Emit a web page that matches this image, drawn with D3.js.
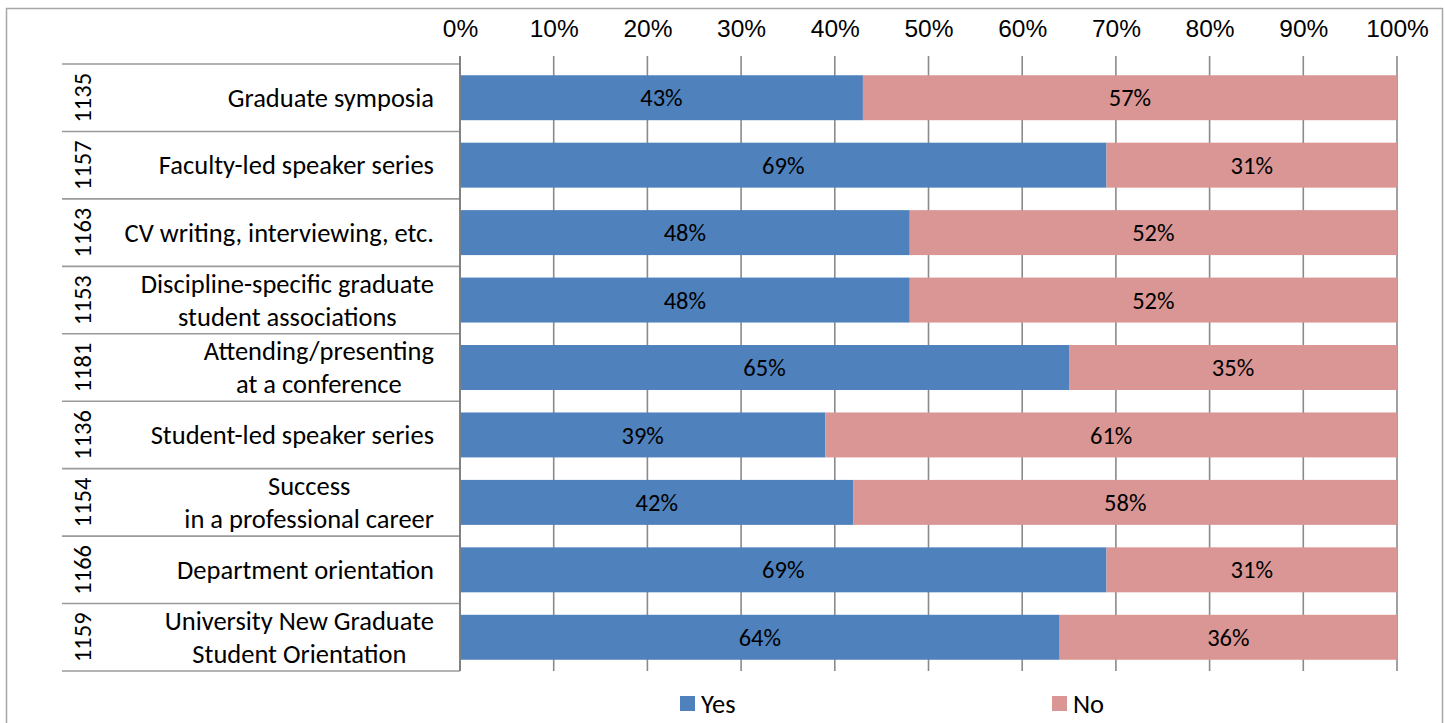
<!DOCTYPE html>
<html>
<head>
<meta charset="utf-8">
<script src="https://cdn.jsdelivr.net/npm/d3@7"></script>
<style>
  html, body { margin: 0; padding: 0; background: #fff; }
  svg { display: block; font-family: Carlito, Calibri, Lato, "Open Sans", sans-serif; }
</style>
</head>
<body>
<svg id="chart" width="1445" height="723"></svg>
<script>
// Survey item codes and item descriptions (top to bottom)
const codes = ["1135", "1157", "1163", "1153", "1181", "1136", "1154", "1166", "1159"];
const categories = [
  ["Graduate symposia"],
  ["Faculty-led speaker series"],
  ["CV writing, interviewing, etc."],
  ["Discipline-specific graduate", "student associations"],
  ["Attending/presenting", "at a conference"],
  ["Student-led speaker series"],
  ["Success", "in a professional career"],
  ["Department orientation"],
  ["University New Graduate", "Student Orientation"]
];
// Share of responses (%)
const yesValues = [43, 69, 48, 48, 65, 39, 42, 69, 64];
const noValues  = [57, 31, 52, 52, 35, 61, 58, 31, 36];
const seriesNames = ["Yes", "No"];
const seriesColors = ["#4F81BD", "#D99694"];
const tickValues = [0, 10, 20, 30, 40, 50, 60, 70, 80, 90, 100];

const svg = d3.select("#chart");
const NUM_FONT = 24.5;   // numbers: tick and value labels
const TXT_FONT = 26.5;   // words: item descriptions and legend

// Plot area
const plot = { left: 460, right: 1397, top: 64, bottom: 671 };
const labelAreaLeft = 62;

const x = d3.scaleLinear().domain([0, 100]).range([plot.left, plot.right]);
const y = d3.scaleBand()
  .domain(d3.range(codes.length))
  .range([plot.top, plot.bottom])
  .paddingInner(1 / 3)
  .paddingOuter(1 / 6);
const rowH = (plot.bottom - plot.top) / codes.length;

// Chart border
svg.append("rect")
  .attr("x", 6.5).attr("y", 8.5)
  .attr("width", 1436).attr("height", 730)
  .attr("fill", "none")
  .attr("stroke", "#a6a6a6")
  .attr("stroke-width", 1.5);

// Vertical gridlines with ticks above the plot
const gridColor = "#8a8a8a";
svg.append("g")
  .selectAll("line")
  .data(tickValues)
  .join("line")
  .attr("x1", d => x(d)).attr("x2", d => x(d))
  .attr("y1", plot.top - 8).attr("y2", plot.bottom)
  .attr("stroke", gridColor)
  .attr("stroke-width", 1.6);

// Top value axis labels
const xAxis = d3.axisTop(x)
  .tickValues(tickValues)
  .tickFormat(d => d + "%")
  .tickSize(0)
  .tickPadding(0);
const axisG = svg.append("g")
  .attr("transform", `translate(0, 37)`)
  .call(xAxis);
axisG.select(".domain").remove();
axisG.selectAll("text")
  .attr("font-size", NUM_FONT)
  .attr("font-family", null)
  .attr("fill", "#000")
  .attr("dy", 0);

// Category-axis separators (multi-level label area)
const sepYs = d3.range(codes.length + 1).map(i => plot.top + i * rowH);
svg.append("g")
  .selectAll("line")
  .data(sepYs)
  .join("line")
  .attr("x1", labelAreaLeft).attr("x2", plot.left)
  .attr("y1", d => d).attr("y2", d => d)
  .attr("stroke", "#9a9a9a")
  .attr("stroke-width", 1.6);

// Stacked bars
const stackData = codes.map((c, i) => ({ Yes: yesValues[i], No: noValues[i], idx: i }));
const stacked = d3.stack().keys(seriesNames)(stackData);

const barG = svg.append("g");
stacked.forEach((layer, si) => {
  barG.append("g")
    .selectAll("rect")
    .data(layer)
    .join("rect")
    .attr("x", d => x(d[0]))
    .attr("width", d => x(d[1]) - x(d[0]))
    .attr("y", d => y(d.data.idx))
    .attr("height", y.bandwidth())
    .attr("fill", seriesColors[si]);
});

// Value labels centred in each segment
stacked.forEach((layer, si) => {
  barG.append("g")
    .selectAll("text")
    .data(layer)
    .join("text")
    .attr("x", d => (x(d[0]) + x(d[1])) / 2)
    .attr("y", d => y(d.data.idx) + y.bandwidth() / 2)
    .attr("dy", "0.35em")
    .attr("text-anchor", "middle")
    .attr("font-size", NUM_FONT)
    .attr("fill", "#000")
    .text(d => Math.round(d[1] - d[0]) + "%");
});

// Value axis line at 0%
svg.append("line")
  .attr("x1", plot.left).attr("x2", plot.left)
  .attr("y1", plot.top - 8).attr("y2", plot.bottom)
  .attr("stroke", "#7f7f7f")
  .attr("stroke-width", 1.8);

// Item codes, rotated
svg.append("g")
  .selectAll("text")
  .data(codes)
  .join("text")
  .attr("transform", (d, i) => `translate(91, ${plot.top + (i + 0.5) * rowH}) rotate(-90)`)
  .attr("text-anchor", "middle")
  .attr("font-size", NUM_FONT)
  .attr("fill", "#000")
  .text(d => d);

// Item descriptions: centred lines, block right-aligned to the axis
const labelRight = 434;
const lineH = 33;
const catG = svg.append("g");
categories.forEach((lines, i) => {
  const cy = plot.top + (i + 0.5) * rowH;
  const g = catG.append("g");
  const texts = lines.map((ln, k) => g.append("text")
    .attr("y", cy + (k - (lines.length - 1) / 2) * lineH)
    .attr("dy", "0.35em")
    .attr("text-anchor", "middle")
    .attr("font-size", TXT_FONT)
    .attr("fill", "#000")
    .text(ln));
  const maxW = d3.max(texts, t => t.node().getComputedTextLength());
  texts.forEach(t => t.attr("x", labelRight - maxW / 2));
});

// Legend
const legendItems = [
  { name: seriesNames[0], color: seriesColors[0], x: 680 },
  { name: seriesNames[1], color: seriesColors[1], x: 1052 }
];
const lg = svg.append("g");
legendItems.forEach(it => {
  lg.append("rect")
    .attr("x", it.x).attr("y", 696)
    .attr("width", 15).attr("height", 15)
    .attr("fill", it.color);
  lg.append("text")
    .attr("x", it.x + 21).attr("y", 703.5)
    .attr("dy", "0.35em")
    .attr("font-size", TXT_FONT)
    .attr("fill", "#000")
    .text(it.name);
});
</script>
</body>
</html>
